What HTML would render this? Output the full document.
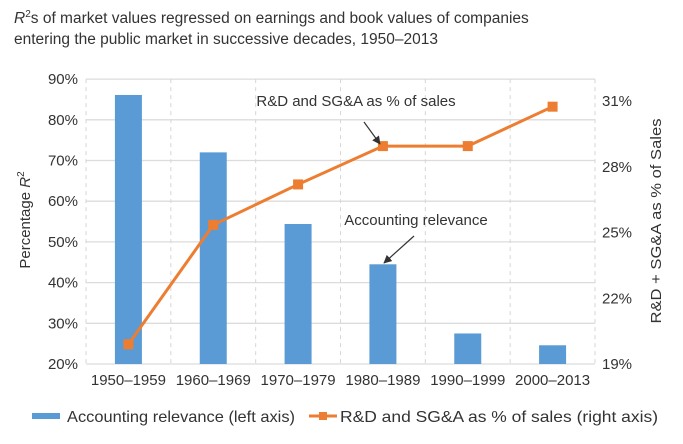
<!DOCTYPE html>
<html><head><meta charset="utf-8"><style>
body{margin:0;background:#fff;font-family:"Liberation Sans",sans-serif;}
svg text{font-family:"Liberation Sans",sans-serif;fill:#333;}
</style></head><body>
<svg width="683" height="439" viewBox="0 0 683 439" xmlns="http://www.w3.org/2000/svg">
<defs><marker id="ah" viewBox="0 0 10 10" refX="9" refY="5" markerWidth="7" markerHeight="7" orient="auto"><path d="M0,0L10,5L0,10z" fill="#333"/></marker></defs>
<text x="14" y="23" font-size="15.5"><tspan font-style="italic">R</tspan><tspan font-size="10" dy="-6">2</tspan><tspan dy="6">s of market values regressed on earnings and book values of companies</tspan></text>
<text x="14" y="44" font-size="15.5">entering the public market in successive decades, 1950–2013</text>
<g id="grid"></g><g id="bars"></g><g id="line"></g><g id="axes"></g>
<text transform="translate(30,220) rotate(-90)" text-anchor="middle" font-size="15">Percentage <tspan font-style="italic">R</tspan><tspan font-size="10" dy="-6">2</tspan></text>
<text transform="translate(661,221) rotate(-90)" text-anchor="middle" font-size="15" textLength="205" lengthAdjust="spacingAndGlyphs">R&amp;D + SG&amp;A as % of Sales</text>
<text x="356" y="106" text-anchor="middle" font-size="15">R&amp;D and SG&amp;A as % of sales</text>
<line x1="364" y1="122" x2="380" y2="144" stroke="#333" stroke-width="1.2" marker-end="url(#ah)"/>
<text x="416" y="225" text-anchor="middle" font-size="15">Accounting relevance</text>
<line x1="414" y1="236" x2="384" y2="263" stroke="#333" stroke-width="1.2" marker-end="url(#ah)"/>
<g>
<rect x="32" y="413" width="28" height="6" fill="#5b9bd5"/>
<text x="67" y="422" font-size="16" textLength="228" lengthAdjust="spacingAndGlyphs">Accounting relevance (left axis)</text>
<line x1="309" y1="416" x2="337" y2="416" stroke="#ed7d31" stroke-width="3"/>
<rect x="319" y="412" width="8" height="8" fill="#ed7d31"/>
<text x="340" y="422" font-size="16" textLength="318" lengthAdjust="spacingAndGlyphs">R&amp;D and SG&amp;A as % of sales (right axis)</text>
</g>
</svg>
<script>
const categories=["1950–1959","1960–1969","1970–1979","1980–1989","1990–1999","2000–2013"];
const relevance=[86.1,72.0,54.4,44.5,27.5,24.6];
const rdShare=[19.9,25.35,27.2,28.95,28.95,30.75];
const leftTicks=[20,30,40,50,60,70,80,90];
const rightTicks=[19,22,25,28,31];
const NS="http://www.w3.org/2000/svg";
const X0=86,X1=595,YB=364;
const bw=(X1-X0)/categories.length;
const xC=i=>X0+bw*(i+0.5);
const yL=v=>YB-(v-20)*4.07;
const yR=v=>YB-(v-19)*21.9;
function mk(tag,attrs,parent,txt){const e=document.createElementNS(NS,tag);for(const k in attrs)e.setAttribute(k,attrs[k]);if(txt!=null)e.textContent=txt;document.getElementById(parent).appendChild(e);return e;}
leftTicks.forEach(t=>{
 const g=mk('line',{x1:X0,x2:X1,y1:yL(t),y2:yL(t),stroke:'#dcdcdc','stroke-width':1.3},'grid');
 
 
 const l=mk('text',{x:X0-8,y:yL(t)+5,'text-anchor':'end','font-size':15},'axes',t+'%');
 
 
});
for(let i=0;i<=categories.length;i++){
 const v=mk('line',{x1:X0+bw*i,x2:X0+bw*i,y1:yL(90),y2:YB,stroke:'#d6d6d6','stroke-dasharray':'4,4'},'grid');
 
 
}
rightTicks.forEach(t=>{
 const l=mk('text',{x:X1+7,y:yR(t)+5,'font-size':15},'axes',t+'%');
 
 
});
categories.forEach((c,i)=>{
 const b=mk('rect',{x:xC(i)-13.5,y:yL(relevance[i]),width:27,height:YB-yL(relevance[i]),fill:'#5b9bd5'},'bars');
 
 
 const l=mk('text',{x:xC(i),y:YB+21,'text-anchor':'middle','font-size':15},'axes',c);
 
 
});
const pts=rdShare.map((v,i)=>xC(i)+','+yR(v)).join(' ');
const pl=mk('polyline',{points:pts,fill:'none',stroke:'#ed7d31','stroke-width':3},'line');


rdShare.forEach((v,i)=>{
 const m=mk('rect',{x:xC(i)-5,y:yR(v)-5,width:10,height:10,fill:'#ed7d31'},'line');
 
 
});
</script>
</body></html>
